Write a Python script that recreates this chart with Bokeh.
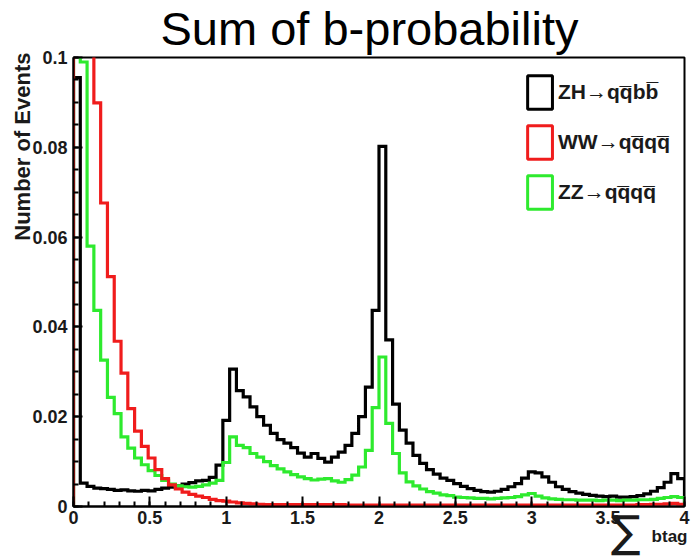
import numpy as np
from bokeh.plotting import figure
from bokeh.models import Range1d, FixedTicker, Title, Legend, LegendItem
from bokeh.embed import file_html
from bokeh.resources import INLINE

# ---------------- data ----------------
bin_lo, bin_hi, n_bins = 0.0, 4.0, 90

zh_qqbb = [0.0955, 0.0052, 0.0045, 0.0041, 0.0040, 0.0038, 0.0036, 0.0037, 0.0035, 0.0034,
           0.0036, 0.0035, 0.0038, 0.0041, 0.0043, 0.0046, 0.0050, 0.0053, 0.0057, 0.0058,
           0.0065, 0.0092, 0.0192, 0.0306, 0.0258, 0.0244, 0.0222, 0.0200, 0.0181, 0.0163,
           0.0149, 0.0141, 0.0131, 0.0119, 0.0110, 0.0118, 0.0107, 0.0099, 0.0110, 0.0121,
           0.0136, 0.0163, 0.0200, 0.0266, 0.0437, 0.0802, 0.0371, 0.0228, 0.0170, 0.0141,
           0.0114, 0.0096, 0.0082, 0.0072, 0.0063, 0.0058, 0.0051, 0.0045, 0.0040, 0.0036,
           0.0033, 0.0032, 0.0034, 0.0038, 0.0044, 0.0051, 0.0063, 0.0077, 0.0075, 0.0066,
           0.0054, 0.0044, 0.0038, 0.0033, 0.0030, 0.0027, 0.0025, 0.0023, 0.0022, 0.0023,
           0.0021, 0.0021, 0.0022, 0.0024, 0.0028, 0.0034, 0.0042, 0.0054, 0.0073, 0.0062]

ww_qqqq = [0.1700, 0.1450, 0.1180, 0.0899, 0.0676, 0.0512, 0.0368, 0.0297, 0.0218, 0.0168,
           0.0134, 0.0108, 0.0082, 0.0062, 0.0048, 0.0039, 0.0032, 0.0027, 0.0023, 0.0020,
           0.0016, 0.0013, 0.0012, 0.0010, 0.0008, 0.0007, 0.0006, 0.0005, 0.0004, 0.0004,
           0.0004, 0.0004, 0.0004, 0.0004, 0.0004, 0.0004, 0.0004, 0.0004, 0.0004, 0.0004,
           0.0003, 0.0003, 0.0003, 0.0003, 0.0003, 0.0003, 0.0003, 0.0003, 0.0003, 0.0003,
           0.0003, 0.0003, 0.0003, 0.0003, 0.0003, 0.0003, 0.0003, 0.0003, 0.0003, 0.0003,
           0.0003, 0.0003, 0.0003, 0.0003, 0.0003, 0.0003, 0.0003, 0.0003, 0.0003, 0.0003,
           0.0003, 0.0003, 0.0003, 0.0003, 0.0003, 0.0003, 0.0003, 0.0003, 0.0003, 0.0003,
           0.0003, 0.0003, 0.0003, 0.0004, 0.0004, 0.0005, 0.0005, 0.0006, 0.0007, 0.0005]

zz_qqqq = [0.1200, 0.0990, 0.0580, 0.0437, 0.0326, 0.0243, 0.0207, 0.0155, 0.0130, 0.0108,
           0.0093, 0.0080, 0.0069, 0.0058, 0.0050, 0.0046, 0.0044, 0.0043, 0.0045, 0.0048,
           0.0052, 0.0058, 0.0098, 0.0155, 0.0136, 0.0131, 0.0118, 0.0110, 0.0100, 0.0091,
           0.0084, 0.0077, 0.0071, 0.0066, 0.0062, 0.0059, 0.0061, 0.0062, 0.0057, 0.0054,
           0.0060, 0.0070, 0.0088, 0.0125, 0.0220, 0.0333, 0.0185, 0.0118, 0.0075, 0.0055,
           0.0046, 0.0039, 0.0033, 0.0030, 0.0026, 0.0024, 0.0021, 0.0020, 0.0019, 0.0018,
           0.0018, 0.0017, 0.0018, 0.0019, 0.0020, 0.0022, 0.0026, 0.0029, 0.0023, 0.0019,
           0.0017, 0.0016, 0.0015, 0.0015, 0.0014, 0.0014, 0.0014, 0.0013, 0.0014, 0.0014,
           0.0013, 0.0014, 0.0014, 0.0015, 0.0015, 0.0016, 0.0018, 0.0020, 0.0022, 0.0020]

series_labels = ["ZH\u2192qq\u0305bb\u0305", "WW\u2192qq\u0305qq\u0305", "ZZ\u2192qq\u0305qq\u0305"]

x_ticks = [0, 0.5, 1, 1.5, 2, 2.5, 3, 3.5, 4]
x_tick_labels = ["0", "0.5", "1", "1.5", "2", "2.5", "3", "3.5", "4"]
y_ticks = [0, 0.02, 0.04, 0.06, 0.08, 0.1]
y_tick_labels = ["0", "0.02", "0.04", "0.06", "0.08", "0.1"]

title_text = "Sum of b-probability"
y_title = "Number of Events"
x_title_symbol = "\u2211"
x_title_sub = "btag"

# ---------------- figure ----------------
p = figure(width=692, height=557, x_range=Range1d(0, 4), y_range=Range1d(0, 0.1),
           output_backend="svg", toolbar_location=None,
           min_border_left=73, min_border_right=8, min_border_top=57, min_border_bottom=51)
p.background_fill_color = "white"
p.border_fill_color = "white"
p.xgrid.visible = False
p.ygrid.visible = False
p.outline_line_color = "black"
p.outline_line_width = 2

p.title.text = title_text
p.title.align = "left"
p.title.offset = 87
p.title.standoff = 2
p.title.vertical_align = "top"
p.title.text_font = "Liberation Sans"
p.title.text_font_size = "47px"
p.title.text_font_style = "normal"
p.title.text_color = "black"

p.xaxis.ticker = FixedTicker(ticks=x_ticks, minor_ticks=list(np.arange(0, 4.001, 0.1)))
p.yaxis.ticker = FixedTicker(ticks=y_ticks, minor_ticks=list(np.arange(0, 0.1001, 0.005)))
p.xaxis.major_label_overrides = dict(zip(x_ticks, x_tick_labels))
p.yaxis.major_label_overrides = dict(zip(y_ticks, y_tick_labels))

for ax in (p.xaxis, p.yaxis):
    ax.axis_line_color = "black"
    ax.axis_line_width = 2
    ax.major_tick_line_color = "black"
    ax.major_tick_line_width = 2
    ax.minor_tick_line_color = "black"
    ax.minor_tick_line_width = 2
    ax.major_tick_out = 0
    ax.minor_tick_out = 0
    ax.major_label_text_font = "Liberation Sans"
    ax.major_label_text_font_style = "bold"
    ax.major_label_text_font_size = "18px"
    ax.major_label_text_color = "#1a1a1a"
p.yaxis.major_tick_in = 9
p.yaxis.minor_tick_in = 5
p.xaxis.major_tick_in = 10
p.xaxis.minor_tick_in = 5
p.yaxis.major_label_standoff = 6
p.xaxis.major_label_standoff = 4

edges = np.linspace(bin_lo, bin_hi, n_bins + 1)


def outline(vals):
    xs = np.repeat(edges, 2)
    ys = np.concatenate([[0.0], np.repeat(np.asarray(vals), 2), [0.0]])
    return xs, ys


colors = ["#000000", "#f01c1c", "#2eea2e"]
for vals, c in [(zh_qqbb, colors[0]), (zz_qqqq, colors[2]), (ww_qqqq, colors[1])]:
    xs, ys = outline(vals)
    p.line(xs, ys, line_color=c, line_width=3.2, line_join="miter")

# legend proxies (hollow boxes, nothing drawn in the plot)
items = []
for lab, c in zip(series_labels, colors):
    r = p.rect(x=[np.nan], y=[np.nan], width=0.1, height=0.01, fill_alpha=0,
               line_color=c, line_width=3)
    items.append(LegendItem(label=lab, renderers=[r]))
legend = Legend(items=items, location="top_right", glyph_width=31, glyph_height=42,
                spacing=8, label_standoff=3, label_text_font="Liberation Sans",
                label_text_font_style="bold", label_text_font_size="21px",
                label_text_color="#1a1a1a", border_line_alpha=0, background_fill_alpha=0,
                margin=6, padding=8)
p.add_layout(legend)

# y axis title, top-aligned like ROOT
p.add_layout(Title(text=y_title, align="right", vertical_align="bottom", offset=-5, standoff=-10,
                   text_font="Liberation Sans", text_font_style="bold", text_font_size="22px",
                   text_color="#1a1a1a"), "left")

# x axis title: big sum sign and "btag", at the right end
p.add_layout(Title(text=x_title_symbol, align="right", vertical_align="top", offset=44,
                   standoff=-42, text_font="DejaVu Sans", text_font_style="normal",
                   text_font_size="44px", text_color="#1a1a1a"), "below")
p.add_layout(Title(text=x_title_sub, align="right", vertical_align="top", offset=-3,
                   standoff=-21, text_font="Liberation Sans", text_font_style="bold",
                   text_font_size="17px", text_color="#1a1a1a"), "below")

open("out.html", "w").write(file_html(p, INLINE))
